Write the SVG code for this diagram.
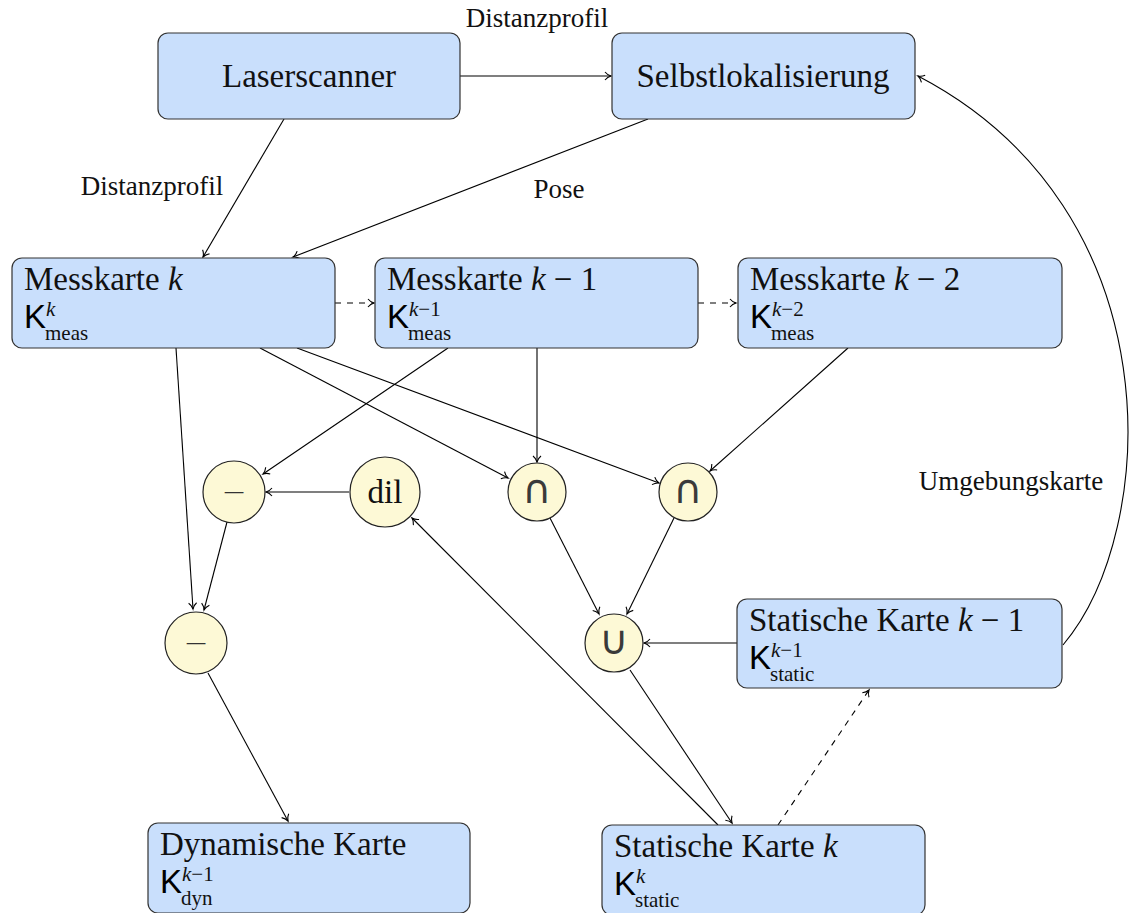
<svg xmlns="http://www.w3.org/2000/svg" width="1130" height="913" viewBox="0 0 1130 913">
  <style>
    .box { fill: #c9dffc; stroke: #333; stroke-width: 1.2; }
    .op { fill: #fdf9d6; stroke: #222; stroke-width: 1.2; }
    .t { font-family: "Liberation Serif", serif; font-size: 33px; fill: #111; }
    .lbl { font-family: "Liberation Serif", serif; font-size: 27px; fill: #111; }
    .K { font-family: "Liberation Sans", Arial, sans-serif; font-size: 33px; fill: #000; }
    .s { font-family: "Liberation Serif", serif; font-size: 21px; fill: #111; }
    .i { font-style: italic; }
    .sym { font-family: "DejaVu Sans", sans-serif; fill: #333; text-anchor: middle; }
    .set { font-size: 40px; fill: #3a3a3a; }
    .minus { font-size: 30px; font-weight: 200; }
    .e { fill: none; stroke: #000; stroke-width: 1.1; marker-end: url(#arr); }
    .d { stroke-dasharray: 6 6; }
  </style>
  <defs>
    <marker id="arr" viewBox="-8 -5 10 10" refX="0" refY="0" markerWidth="10" markerHeight="10" markerUnits="userSpaceOnUse" orient="auto">
      <path d="M-6,-4 C-4,-1.5 -1.5,-0.4 0,0 C-1.5,0.4 -4,1.5 -6,4" fill="none" stroke="#000" stroke-width="1.1"/>
    </marker>
  </defs>

  <!-- connectors -->
  <g id="edges">
    <line class="e" x1="460" y1="76" x2="611" y2="76"/>
    <line class="e" x1="284" y1="119" x2="203" y2="257"/>
    <line class="e" x1="648" y1="119" x2="293" y2="257"/>
    <line class="e d" x1="335" y1="303" x2="374" y2="303"/>
    <line class="e d" x1="698" y1="303" x2="736" y2="303"/>
    <line class="e" x1="176" y1="348" x2="193" y2="609"/>
    <line class="e" x1="260" y1="348" x2="508" y2="478"/>
    <line class="e" x1="297" y1="348" x2="659" y2="483"/>
    <line class="e" x1="448" y1="348" x2="263" y2="474"/>
    <line class="e" x1="537" y1="348" x2="537" y2="462"/>
    <line class="e" x1="848" y1="348" x2="710" y2="471"/>
    <line class="e" x1="349" y1="492" x2="266" y2="492"/>
    <line class="e" x1="227" y1="522" x2="204" y2="610"/>
    <line class="e" x1="550" y1="518" x2="599" y2="614"/>
    <line class="e" x1="674" y1="518" x2="627" y2="614"/>
    <line class="e" x1="737" y1="643" x2="644" y2="643"/>
    <line class="e" x1="208" y1="673" x2="288" y2="821"/>
    <line class="e" x1="630" y1="670" x2="732" y2="823"/>
    <line class="e" x1="718" y1="825" x2="412" y2="518"/>
    <line class="e d" x1="778" y1="825" x2="869" y2="690"/>
    <path class="e" d="M1063,645 C1160,530 1175,210 918,76"/>
    <text class="lbl" x="537" y="27" text-anchor="middle">Distanzprofil</text>
    <text class="lbl" x="152" y="195" text-anchor="middle">Distanzprofil</text>
    <text class="lbl" x="559" y="198" text-anchor="middle">Pose</text>
    <text class="lbl" x="1011" y="490" text-anchor="middle">Umgebungskarte</text>
  </g>

  <g id="laserscanner">
    <rect class="box" x="158" y="33" width="302" height="86" rx="10"/>
    <text class="t" x="309" y="87" text-anchor="middle">Laserscanner</text>
  </g>
  <g id="selbstlokalisierung">
    <rect class="box" x="612" y="33" width="303" height="86" rx="10"/>
    <text class="t" x="763" y="87" text-anchor="middle">Selbstlokalisierung</text>
  </g>

  <g id="messkarte-k">
    <rect class="box" x="12" y="258" width="323" height="90" rx="10"/>
    <text class="t" x="24" y="290">Messkarte <tspan class="i">k</tspan></text>
    <text class="K" x="24" y="328">K</text>
    <text class="s i" x="46" y="316">k</text>
    <text class="s" x="45" y="340">meas</text>
  </g>
  <g id="messkarte-k1">
    <rect class="box" x="375" y="258" width="323" height="90" rx="10"/>
    <text class="t" x="387" y="290">Messkarte <tspan class="i">k</tspan> − 1</text>
    <text class="K" x="387" y="328">K</text>
    <text class="s" x="409" y="316"><tspan class="i">k</tspan>−1</text>
    <text class="s" x="408" y="340">meas</text>
  </g>
  <g id="messkarte-k2">
    <rect class="box" x="738" y="258" width="324" height="90" rx="10"/>
    <text class="t" x="750" y="290">Messkarte <tspan class="i">k</tspan> − 2</text>
    <text class="K" x="750" y="328">K</text>
    <text class="s" x="772" y="316"><tspan class="i">k</tspan>−2</text>
    <text class="s" x="771" y="340">meas</text>
  </g>

  <g id="op-minus1">
    <circle class="op" cx="234" cy="492" r="31"/>
    <text class="sym minus" x="234" y="502">−</text>
  </g>
  <g id="op-dil">
    <circle class="op" cx="385" cy="492" r="35"/>
    <text class="t" x="385" y="503" text-anchor="middle">dil</text>
  </g>
  <g id="op-cap1">
    <circle class="op" cx="537" cy="492" r="29"/>
    <text class="sym set" x="537" y="503">∩</text>
  </g>
  <g id="op-cap2">
    <circle class="op" cx="688" cy="492" r="29"/>
    <text class="sym set" x="688" y="503">∩</text>
  </g>
  <g id="op-minus2">
    <circle class="op" cx="196" cy="643" r="31"/>
    <text class="sym minus" x="196" y="653">−</text>
  </g>
  <g id="op-cup">
    <circle class="op" cx="614" cy="643" r="29"/>
    <text class="sym set" x="614" y="654">∪</text>
  </g>

  <g id="statische-karte-k1">
    <rect class="box" x="737" y="599" width="325" height="89" rx="10"/>
    <text class="t" x="749" y="631">Statische Karte <tspan class="i">k</tspan> − 1</text>
    <text class="K" x="749" y="669">K</text>
    <text class="s" x="771" y="657"><tspan class="i">k</tspan>−1</text>
    <text class="s" x="770" y="681">static</text>
  </g>

  <g id="dynamische-karte">
    <rect class="box" x="148" y="823" width="322" height="90" rx="10"/>
    <text class="t" x="160" y="855">Dynamische Karte</text>
    <text class="K" x="160" y="893">K</text>
    <text class="s" x="182" y="881"><tspan class="i">k</tspan>−1</text>
    <text class="s" x="181" y="905">dyn</text>
  </g>
  <g id="statische-karte-k">
    <rect class="box" x="602" y="825" width="323" height="90" rx="10"/>
    <text class="t" x="614" y="857">Statische Karte <tspan class="i">k</tspan></text>
    <text class="K" x="614" y="895">K</text>
    <text class="s i" x="636" y="883">k</text>
    <text class="s" x="635" y="907">static</text>
  </g>
</svg>
